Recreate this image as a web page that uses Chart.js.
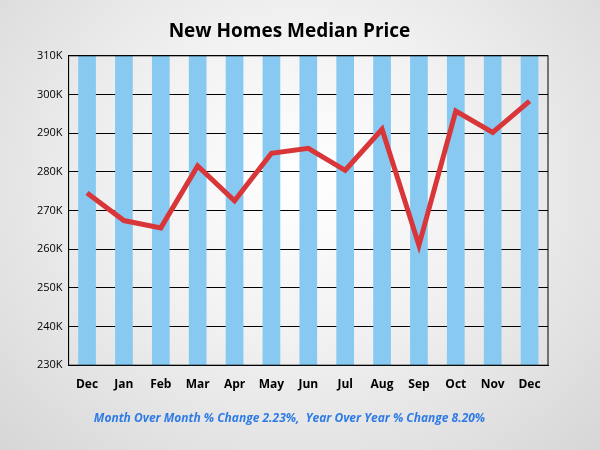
<!DOCTYPE html>
<html><head><meta charset="utf-8">
<script src="https://cdn.jsdelivr.net/npm/chart.js@4"></script>
<style>
html,body{margin:0;padding:0;width:600px;height:450px;overflow:hidden;
background:radial-gradient(ellipse at 50% 40%, #ffffff 0%, #f2f2f2 40%, #d6d6d6 100%);}
#wrap{position:absolute;left:0;top:0;width:600px;height:450px;}
</style></head><body>
<div id="wrap"><canvas id="c" width="600" height="450"></canvas></div>
<script>
const categories = ["Dec","Jan","Feb","Mar","Apr","May","Jun","Jul","Aug","Sep","Oct","Nov","Dec"];
const medianPrice = [274.5,267.4,265.5,281.5,272.5,284.8,286.1,280.4,291.0,261.0,295.7,290.2,298.3];
const stripeTop = [310,310,310,310,310,310,310,310,310,310,310,310,310];
const yMin = 230, yMax = 310, yStep = 10;
const titleText = "New Homes Median Price";
const footText = "Month Over Month % Change 2.23%,  Year Over Year % Change 8.20%";

new Chart(document.getElementById('c'), {
  data: {
    labels: categories,
    datasets: [
      { type:'line', data: medianPrice, borderColor:'#d9363a', borderWidth:5, pointRadius:0, tension:0, order:0 },
      { type:'bar', data: stripeTop, backgroundColor:'#87c9f0', barPercentage:0.48, categoryPercentage:1, order:1 }
    ]
  },
  options: {
    responsive:false, animation:false,
    layout:{padding:{left:31,right:52,top:0,bottom:14}},
    plugins:{
      legend:{display:false}, tooltip:{enabled:false},
      title:{display:true,text:titleText,color:'#000',font:{family:'Open Sans',size:19,weight:'bold'},padding:{top:20,bottom:13}},
      subtitle:{display:true,position:'bottom',text:footText,color:'#2e7be6',font:{family:'Open Sans',size:12,weight:'bold',style:'italic'},padding:{top:16,bottom:10}}
    },
    scales:{
      x:{grid:{display:false},border:{color:'#000'},ticks:{color:'#000',padding:4,font:{family:'Open Sans',size:12,weight:'bold'}}},
      y:{min:yMin,max:yMax,ticks:{stepSize:yStep,color:'#000',padding:6,font:{family:'Open Sans',size:11},callback:v=>v+'K'},
         grid:{color:'#000',drawTicks:false},border:{color:'#000'}}
    }
  },
  plugins:[{id:'frame',afterDraw(ch){const a=ch.chartArea,c=ch.ctx;c.save();c.strokeStyle='#000';c.lineWidth=1;c.strokeRect(a.left,a.top,a.right-a.left,a.bottom-a.top);c.restore();}}]
});
</script></body></html>
